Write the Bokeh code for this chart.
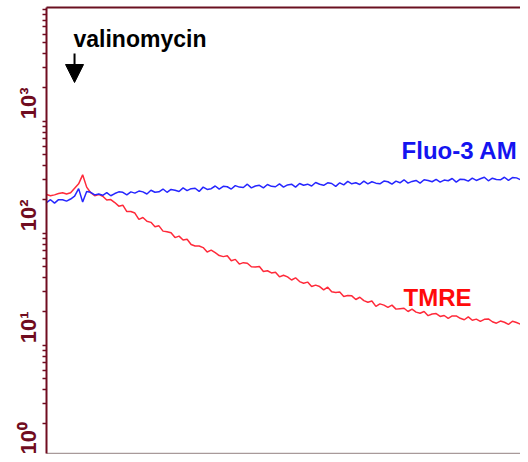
import math
from bokeh.plotting import figure
from bokeh.models import Range1d, FixedTicker, LinearAxis, Label, Arrow, NormalHead, ColumnDataSource
from bokeh.embed import file_html
from bokeh.resources import INLINE

# time axis (s), one reading every 5 s
time_s = list(range(0, 605, 5))

# TMRE trace (red)
tmre = [111, 108, 110, 113, 115, 112, 115, 126, 138, 166,
        129, 115, 108, 111, 107, 98.9, 99.9, 93.9, 87.2, 89.0,
        78.1, 78.1, 75.7, 66.4, 69.1, 63.9, 62.5, 57.1, 58.2, 52.2,
        51.6, 50.5, 45.7, 47.1, 43.5, 44.2, 39.6, 38.4, 38.4, 37.2,
        34.0, 35.3, 33.5, 31.6, 30.9, 31.4, 28.4, 29.2, 26.5, 27.3,
        27.0, 25.1, 25.0, 25.2, 22.8, 23.1, 22.1, 22.4, 20.4, 21.1,
        20.4, 19.1, 20.0, 18.5, 17.9, 18.3, 16.7, 17.2, 16.7, 15.6,
        16.5, 15.0, 14.8, 14.9, 13.6, 13.9, 13.8, 12.8, 13.4, 12.5,
        12.1, 12.4, 11.1, 11.7, 11.4, 10.9, 11.4, 10.5, 10.6, 10.7,
        10.0, 10.5, 9.87, 9.65, 10.0, 9.18, 9.49, 9.58, 9.03, 9.21,
        8.67, 9.13, 9.14, 8.69, 8.44, 8.95, 8.35, 8.55, 8.17, 8.51,
        8.59, 8.10, 7.86, 8.22, 8.02, 7.66, 8.18, 7.98, 7.70, 8.05,
        7.70]

# Fluo-3 AM trace (blue)
fluo3 = [93.8, 99.6, 92.8, 99.7, 99.6, 96.7, 101, 107, 125, 95,
         118, 116, 110, 112, 109, 115, 108, 113, 117, 116,
         110, 117, 114, 119, 117, 112, 121, 116, 117, 124,
         116, 123, 121, 118, 127, 120, 125, 126, 118, 129,
         123, 125, 132, 124, 131, 130, 124, 133, 129, 128,
         137, 127, 132, 134, 127, 136, 131, 130, 138, 129,
         135, 137, 129, 139, 134, 137, 132, 142, 137, 134,
         141, 139, 131, 141, 135, 145, 138, 141, 136, 146,
         138, 144, 140, 138, 146, 144, 137, 146, 141, 150,
         140, 145, 148, 140, 150, 148, 144, 151, 143, 149,
         147, 154, 143, 152, 151, 146, 155, 148, 153, 158,
         147, 155, 151, 150, 158, 148, 157, 156, 150, 160,
         154]

decade_ticks = [1, 10, 100, 1000]
decade_labels = {1: "10\u2070", 10: "10\u00b9", 100: "10\u00b2", 1000: "10\u00b3"}
minor_ticks = [1.5, 2, 2.5, 3, 3.5, 4, 4.5, 5,
               15, 20, 25, 30, 35, 40, 45, 50,
               150, 200, 250, 300, 350, 400, 450, 500,
               1500, 2000, 2500, 3000, 3500, 4000, 4500, 5000]

AXIS_RED = "#700c20"

p = figure(width=520, height=454, output_backend="svg", toolbar_location=None,
           y_axis_type="log",
           x_range=Range1d(0, 590), y_range=Range1d(0.5397, 5180),
           min_border_left=46, min_border_right=0, min_border_top=7, min_border_bottom=1)
p.outline_line_color = None
p.grid.visible = False
p.background_fill_color = "white"

src = ColumnDataSource(dict(t=time_s, tmre=tmre, fluo3=fluo3))
p.line("t", "tmre", source=src, line_color="#ff2a3a", line_width=1.5)
p.line("t", "fluo3", source=src, line_color="#2626ff", line_width=1.5)

ya = p.yaxis[0]
ya.ticker = FixedTicker(ticks=decade_ticks, minor_ticks=minor_ticks)
ya.major_label_overrides = decade_labels
ya.major_label_orientation = math.pi / 2
ya.major_label_text_font = "Liberation Sans"
ya.major_label_text_font_style = "bold"
ya.major_label_text_font_size = "22px"
ya.major_label_text_color = AXIS_RED
ya.major_label_standoff = 14
ya.axis_line_color = AXIS_RED
ya.axis_line_width = 2
ya.major_tick_line_color = AXIS_RED
ya.minor_tick_line_color = AXIS_RED
ya.major_tick_in = 0
ya.major_tick_out = 4
ya.minor_tick_in = 0
ya.minor_tick_out = 4
ya.major_tick_line_width = 1.5
ya.minor_tick_line_width = 1.5

xa = p.xaxis[0]
xa.ticker = FixedTicker(ticks=[])
xa.major_label_text_font_size = "0px"
xa.major_label_standoff = 0
xa.axis_line_color = "#a89a9a"
xa.axis_line_width = 1.5
xa.major_tick_out = 0
xa.minor_tick_out = 0

top = LinearAxis(ticker=FixedTicker(ticks=[]), major_label_text_font_size="0px",
                 major_label_standoff=0, major_tick_out=0, minor_tick_out=0,
                 axis_line_color="#6a1020", axis_line_width=2)
p.add_layout(top, "above")

p.add_layout(Label(x=33.6, y=2683, text="valinomycin", text_font="Liberation Sans",
                   text_font_style="bold", text_font_size="23px", text_color="black",
                   text_baseline="alphabetic", text_align="left"))
p.add_layout(Arrow(end=NormalHead(size=18, fill_color="black", line_color="black"),
                   x_start=34.9, y_start=2012, x_end=34.9, y_end=1108,
                   line_width=2, line_color="black"))
p.add_layout(Label(x=442.0, y=273.8, text="Fluo-3 AM", text_font="Liberation Sans",
                   text_font_style="bold", text_font_size="24px", text_color="#1414f0",
                   text_baseline="alphabetic", text_align="left"))
p.add_layout(Label(x=444.4, y=13.3, text="TMRE", text_font="Liberation Sans",
                   text_font_style="bold", text_font_size="24px", text_color="#ff0a0a",
                   text_baseline="alphabetic", text_align="left"))

open("out.html", "w").write(file_html(p, INLINE))
